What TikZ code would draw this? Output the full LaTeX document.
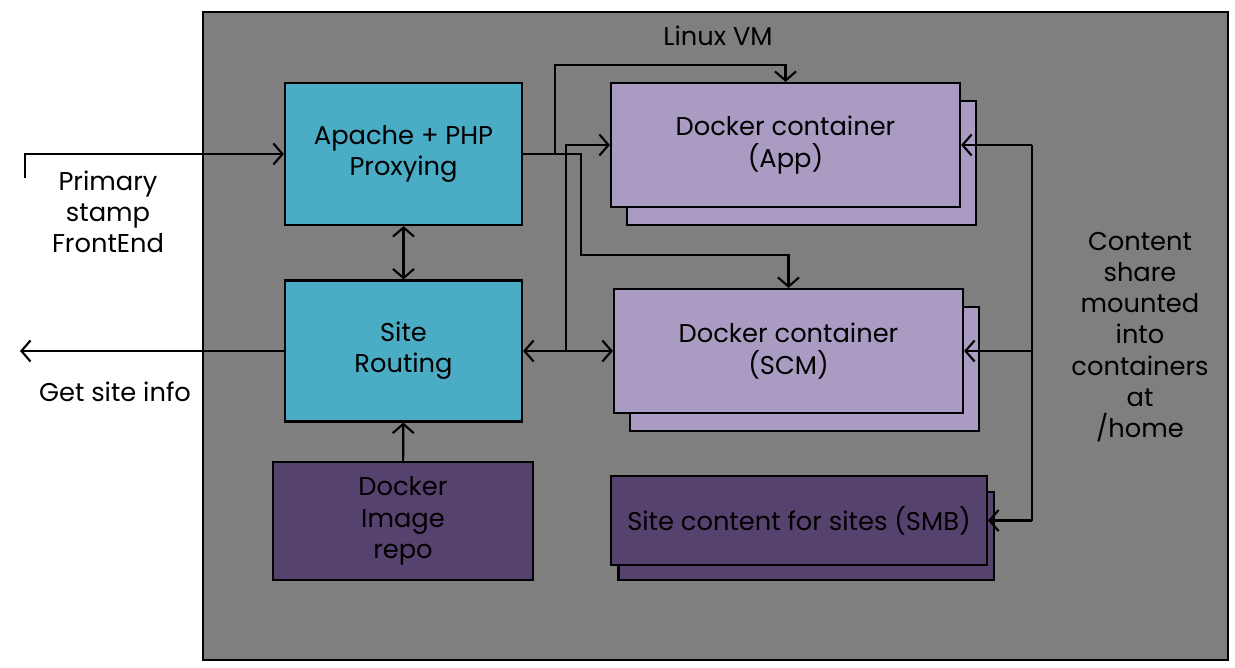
\documentclass[tikz,border=0pt]{standalone}
\usepackage{fontspec}
\setmainfont{Poppins}
\usepackage{xcolor}
\usepackage{tikz}
\usetikzlibrary{positioning, shapes, calc, arrows.meta}

\definecolor{vmgray}{HTML}{7F7F7F}
\definecolor{proxyblue}{HTML}{4BACC6}
\definecolor{lightpurple}{HTML}{AA9BC2}
\definecolor{darkpurple}{HTML}{56426E}

\begin{document}
\begin{tikzpicture}[x=0.025cm, y=-0.025cm, line width=1.5pt, >={Straight Barb[length=6.5pt,width=15pt]},
	every node/.style={font=\fontsize{18.3}{22.2}\selectfont, align=center, text=black}]
		\tikzstyle{vmbox}=[draw=black, fill=vmgray, minimum width=25.625cm, minimum height=16.2cm, inner sep=0pt]
		\tikzstyle{proxybox}=[draw=black, fill=proxyblue, minimum width=5.925cm, minimum height=3.55cm, inner sep=0pt]
		\tikzstyle{dockerbox}=[draw=black, fill=lightpurple, minimum width=8.725cm, minimum height=3.1cm, inner sep=0pt]
		\tikzstyle{storebox}=[draw=black, fill=darkpurple, inner sep=0pt]

		\useasboundingbox (0,0) rectangle (1235,668);

		\node (vm) at (715.5,336) [vmbox] {};
		\node (vmlabel) at (718,36) {Linux VM};

		\node (apache) at (403.5,154) [proxybox] {Apache + PHP\\Proxying};
		\node (routing) at (403.5,351) [proxybox, minimum height=3.525cm] {Site\\Routing};
		\node (repo) at (403,521) [storebox, minimum width=6.5cm, minimum height=2.95cm] {Docker\\Image\\repo};

		\node (appback) at (801.5,163) [dockerbox] {};
		\node (app) at (785.5,145) [dockerbox] {Docker container\\(App)};

		\node (scmback) at (804.5,369) [dockerbox] {};
		\node (scm) at (788.5,351) [dockerbox] {Docker container\\(SCM)};

		\node (smbback) at (806,536) [storebox, minimum width=9.375cm, minimum height=2.2cm] {};
		\node (smb) at (799,520.5) [storebox, minimum width=9.4cm, minimum height=2.225cm] {Site content for sites (SMB)};

		\node (frontend) at (108,212) {Primary\\stamp\\FrontEnd};
		\node (siteinfo) at (115,392) {Get site info};
		\node (share) at (1140,337) {Content\\share\\mounted\\into\\containers\\at\\/home};

		% incoming / outgoing
		\coordinate (stamp) at (25,178);
		\coordinate (infoend) at (20,351);
		\draw [->] (stamp) |- (apache.west);
		\draw [->] (routing.west) -- (infoend);

		\draw [<->] (apache) -- (routing);
		\draw [->] (repo) -- (routing);

		% proxying to the containers
		\coordinate (apptop) at (555,65);
		\coordinate (scmtop) at (581,255);
		\draw [->] (apache.east) -| (apptop) -| (app.north);
		\draw [->] (apache.east) -| (scmtop) -| (scm.north);

		% routing to the containers
		\coordinate (split) at (566,351);
		\draw [<->] (routing.east) -- (scm.west);
		\draw [->] (split) |- (app.west);

		% content share
		\coordinate (bustop) at (1032,145);
		\coordinate (busmid) at (1032,351);
		\coordinate (busbot) at (1032,520.5);
		\draw (bustop) -- (busbot);
		\draw [->] (bustop) -- (app.east);
		\draw [->] (busmid) -- (scm.east);
		\draw [->] (busbot) -- (smb.east);
								
		\end{tikzpicture}
\end{document}
